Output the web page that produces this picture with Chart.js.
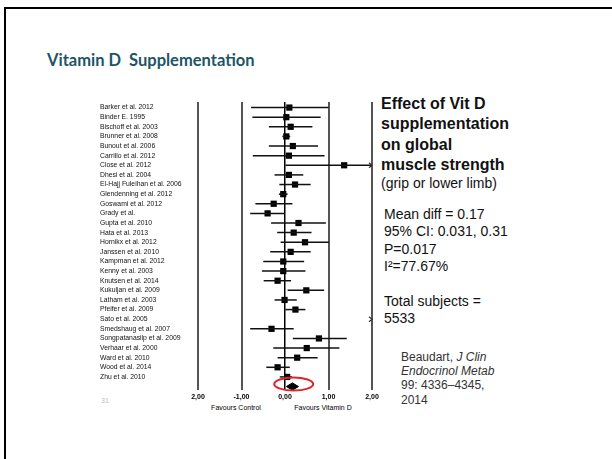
<!DOCTYPE html>
<html><head><meta charset="utf-8">
<script src="https://cdn.jsdelivr.net/npm/chart.js@4.4.0/dist/chart.umd.min.js"></script>
<style>
html,body{margin:0;padding:0;background:#fff;width:612px;height:459px;overflow:hidden;position:relative;font-family:"Liberation Sans",Arial,sans-serif;}
.frame{position:absolute;left:4px;top:7px;width:700px;height:600px;border:2px solid #000;box-sizing:border-box}
.t{position:absolute;white-space:pre;margin:0}
#title{left:47px;top:49.6px;font-family:Lato,"Open Sans",sans-serif;font-weight:bold;font-size:16.5px;line-height:20px;color:#1d5566}
#head{left:381px;top:93.7px;font-weight:bold;font-size:16px;line-height:20.5px;color:#111}
#sub{left:381px;top:175px;font-size:14px;line-height:16px;color:#111}
#stats{left:384px;top:205.8px;font-size:14px;line-height:17.4px;color:#111}
#cite{left:401px;top:349.7px;font-size:12px;line-height:14.3px;color:#333}
.fav{top:404px;font-size:7px;line-height:8px;color:#000;transform:translateX(-50%)}
#pg{left:101px;top:397px;font-size:7px;line-height:8px;color:#bbb}
#cv{position:absolute;left:90px;top:95px}
</style>
</head><body>
<div class="frame"></div>
<div class="t" id="title">Vitamin D  Supplementation</div>
<div class="t" id="head">Effect of Vit D
supplementation
on global
muscle strength</div>
<div class="t" id="sub">(grip or lower limb)</div>
<div class="t" id="stats">Mean diff = 0.17
95% CI: 0.031, 0.31
P=0.017
I²=77.67%

Total subjects =
5533</div>
<div class="t" id="cite">Beaudart, <i>J Clin</i>
<i>Endocrinol Metab</i>
99: 4336–4345,
2014</div>
<div class="t fav" style="left:236px">Favours Control</div>
<div class="t fav" style="left:323px">Favours Vitamin D</div>
<div class="t" id="pg">31</div>
<canvas id="cv" width="292" height="315"></canvas>
<script>
const studies = ["Barker et al. 2012", "Binder E. 1995", "Bischoff et al. 2003", "Brunner et al. 2008", "Bunout et al. 2006", "Carrillo et al. 2012", "Close et al. 2012", "Dhesi et al. 2004", "El-Hajj Fuleihan et al. 2006", "Glendenning et al. 2012", "Goswami et al. 2012", "Grady et al.", "Gupta et al. 2010", "Hata et al. 2013", "Hornikx et al. 2012", "Janssen et al. 2010", "Kampman et al. 2012", "Kenny et al. 2003", "Knutsen et al. 2014", "Kukuljan et al. 2009", "Latham et al. 2003", "Pfeifer et al. 2009", "Sato et al. 2005", "Smedshaug et al. 2007", "Songpatanasilp et al. 2009", "Verhaar et al. 2000", "Ward et al. 2010", "Wood et al. 2014", "Zhu et al. 2010"];
const meanDiff = [0.10, 0.03, 0.13, 0.03, 0.18, 0.09, 1.36, 0.09, 0.23, -0.04, -0.26, -0.40, 0.31, 0.20, 0.46, 0.13, -0.04, -0.04, -0.17, 0.49, -0.01, 0.24, 2.60, -0.31, 0.78, 0.50, 0.28, -0.17, 0.05];
const ciLow = [-0.78, -0.75, -0.37, -0.06, -0.37, -0.74, 0.01, -0.24, -0.13, -0.14, -0.68, -0.80, -0.32, -0.18, -0.10, -0.34, -0.50, -0.53, -0.49, 0.06, -0.24, 0.01, 2.15, -0.80, 0.18, -0.27, -0.17, -0.43, -0.12];
const ciHigh = [1.00, 0.82, 0.63, 0.12, 0.76, 0.91, 2.40, 0.42, 0.59, 0.06, 0.17, 0.00, 0.94, 0.61, 1.01, 0.59, 0.44, 0.47, 0.14, 0.90, 0.27, 0.47, 3.05, 0.20, 1.42, 1.25, 0.75, 0.11, 0.16];
const pooledMean = 0.17;
const pooledLow = 0.031;
const pooledHigh = 0.31;
const xTickValues = [-2, -1, 0, 1, 2];
const xTickLabels = ["2,00", "-1,00", "0,00", "1,00", "2,00"];

Chart.defaults.font.family = '"Liberation Sans", Arial, sans-serif';
const pooledRow = studies.length;

const datasets = [];
studies.forEach((s, i) => {
  datasets.push({type:'line', data:[{x:ciLow[i], y:i}, {x:ciHigh[i], y:i}], borderColor:'#111', borderWidth:1.5, pointRadius:0, showLine:true, fill:false});
});
datasets.push({type:'scatter', data: studies.map((s,i)=>({x:meanDiff[i], y:i})), pointStyle:'rect', pointRadius:4.4, backgroundColor:'#000', borderWidth:0});
datasets.push({type:'line', data:[{x:pooledLow,y:pooledRow},{x:pooledMean,y:pooledRow-0.38},{x:pooledHigh,y:pooledRow},{x:pooledMean,y:pooledRow+0.38},{x:pooledLow,y:pooledRow}], borderColor:'#000', backgroundColor:'#000', borderWidth:1, pointRadius:0, fill:'shape', tension:0});

const extras = {
  id:'extras',
  afterDatasetsDraw(chart){
    const {ctx, scales:{x, y}} = chart;
    ctx.save();
    ctx.strokeStyle = '#333'; ctx.lineWidth = 1.2;
    studies.forEach((s,i)=>{
      if (ciHigh[i] > x.max) {
        const px = x.getPixelForValue(x.max), py = y.getPixelForValue(i);
        ctx.beginPath(); ctx.moveTo(px-3, py-2.5); ctx.lineTo(px, py); ctx.lineTo(px-3, py+2.5); ctx.stroke();
      }
    });
    const cx = x.getPixelForValue(0.2), cy = y.getPixelForValue(pooledRow - 0.26);
    ctx.strokeStyle = '#e0242a'; ctx.lineWidth = 2;
    ctx.beginPath(); ctx.ellipse(cx, cy, 19.5, 6.5, 0, 0, Math.PI*2); ctx.stroke();
    ctx.restore();
  }
};

new Chart(document.getElementById('cv'), {
  type:'scatter',
  data:{datasets},
  plugins:[extras],
  options:{
    responsive:false, animation:false, events:[],
    layout:{padding:{left:10, right:10, top:6, bottom:0}},
    plugins:{legend:{display:false}, tooltip:{enabled:false}},
    scales:{
      x:{type:'linear', min:-2, max:2,
        afterBuildTicks: s => { s.ticks = xTickValues.map(v => ({value:v})); },
        afterFit: s => { s.height = 20; },
        ticks:{callback:(v,i)=>xTickLabels[i], autoSkip:false, maxRotation:0, padding:3, color:'#000', font:{size:7, weight:'bold'}},
        grid:{drawTicks:false, color: c => (c.tick && c.tick.value === 0) ? '#000' : '#555', lineWidth: c => (c.tick && c.tick.value === 0) ? 1.5 : 2},
        border:{display:false}
      },
      y:{type:'linear', reverse:true, min:-0.57, max:29.36,
        afterBuildTicks: s => { s.ticks = studies.map((_, i) => ({value:i})); },
        afterFit: s => { s.width = 98; },
        ticks:{callback:(v,i)=>studies[i], autoSkip:false, crossAlign:'far', color:'#111', font:{size:6.8}},
        grid:{display:false},
        border:{display:false}
      }
    }
  }
});
</script>
</body></html>
